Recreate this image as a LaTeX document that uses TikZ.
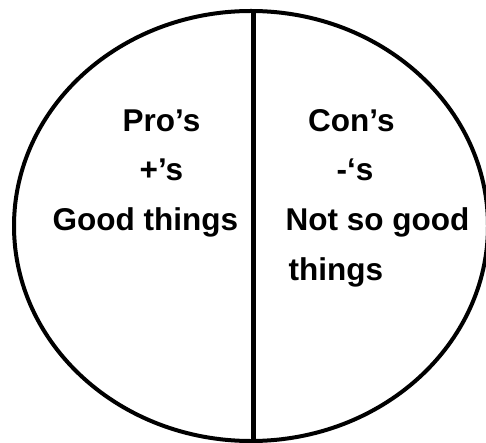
\documentclass[tikz,border=0pt]{standalone}
\usepackage{fontspec}
\setmainfont{Liberation Sans}
\usetikzlibrary{shapes.geometric}
\tikzset{
  lbl/.style={anchor=base west, inner sep=0pt, font=\fontsize{31.5}{36}\selectfont\bfseries},
  rim/.style={draw=black, line width=4pt},
  divider/.style={draw=black, line width=4.5pt}
}
\begin{document}
\begin{tikzpicture}[x=1pt,y=-1pt]
\useasboundingbox (0,0) rectangle (486,443);
\fill[white] (0,0) rectangle (486,443);
\draw[rim] (251,226) ellipse [x radius=237pt, y radius=215pt];
\coordinate (top) at (253.5,11);
\coordinate (bot) at (253.5,441);
\draw[divider] (top) -- (bot);
% left column
\node[lbl] (pro) at (122.5,131.7) {Pro’s};
\node[lbl] (plus) at (139.5,181) {+’s};
\node[lbl] (good) at (52.5,230.7) {Good things};
% right column
\node[lbl] (con) at (308,131.7) {Con’s};
\node[lbl] (minus) at (336.5,181) {-‘s};
\node[lbl] (notso) at (285.5,230.7) {Not so good};
\node[lbl] (things) at (288.5,280) {things};
\end{tikzpicture}
\end{document}
